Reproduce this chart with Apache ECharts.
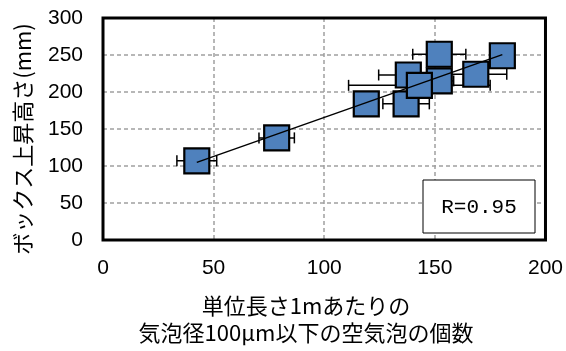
<!DOCTYPE html>
<html>
<head>
<meta charset="utf-8">
<script src="https://cdn.jsdelivr.net/npm/echarts@6/dist/echarts.min.js"></script>
<style>
  html, body { margin: 0; padding: 0; background: #fff; }
  #chart { width: 566px; height: 351px; }
</style>
</head>
<body>
<div id="chart"></div>
<script>
// Bubble count per metre (bubbles ≤ 100 μm) vs. box rise height
const bubbleCount = [42.4, 78.5, 119, 137, 138, 152, 152, 168.5, 180.5, 143];
const riseHeight  = [107, 138, 184, 184, 223, 215, 251, 224, 249, 209];
const countError  = [9, 8, 4, 10.5, 13.4, 6.5, 12, 14, 4, 32];

const xTicks = [0, 50, 100, 150, 200];
const yTicks = [0, 50, 100, 150, 200, 250, 300];

const xTitleLines = ['単位長さ1mあたりの', '気泡径100μm以下の空気泡の個数'];
const yTitle = 'ボックス上昇高さ(mm)';

// least-squares fit and correlation coefficient
const n = bubbleCount.length;
const mx = bubbleCount.reduce((a, b) => a + b, 0) / n;
const my = riseHeight.reduce((a, b) => a + b, 0) / n;
let sxy = 0, sxx = 0, syy = 0;
for (let i = 0; i < n; i++) {
  const dx = bubbleCount[i] - mx, dy = riseHeight[i] - my;
  sxy += dx * dy; sxx += dx * dx; syy += dy * dy;
}
const slope = sxy / sxx;
const intercept = my - slope * mx;
const r = sxy / Math.sqrt(sxx * syy);
const xMin = Math.min(...bubbleCount), xMax = Math.max(...bubbleCount);
const fitLine = [[xMin, intercept + slope * xMin], [xMax, intercept + slope * xMax]];

const points = bubbleCount.map((x, i) => [x, riseHeight[i]]);
const errData = bubbleCount.map((x, i) => [x, riseHeight[i], countError[i]]);

const tickFont = { fontFamily: 'Liberation Sans', fontSize: 21, color: '#000' };
const jpFont = '"Noto Sans CJK JP", sans-serif';

const chart = echarts.init(document.getElementById('chart'), null, { renderer: 'canvas' });
chart.setOption({
  animation: false,
  backgroundColor: '#fff',
  grid: {
    left: 103, right: 19, top: 18, bottom: 111,
    show: true, borderColor: '#000', borderWidth: 3, backgroundColor: 'transparent', z: 3
  },
  xAxis: {
    type: 'value', min: xTicks[0], max: xTicks[xTicks.length - 1], interval: 50,
    axisLine: { show: false }, axisTick: { show: false },
    axisLabel: Object.assign({ margin: 18 }, tickFont),
    splitLine: { show: true, lineStyle: { color: '#a0a0a0', width: 1.5, type: [4, 3] } }
  },
  yAxis: {
    type: 'value', min: yTicks[0], max: yTicks[yTicks.length - 1], interval: 50,
    axisLine: { show: false }, axisTick: { show: false },
    axisLabel: Object.assign({ margin: 20 }, tickFont),
    splitLine: { show: true, lineStyle: { color: '#a0a0a0', width: 1.5, type: [4, 3] } }
  },
  series: [
    {
      // horizontal error bars, drawn beneath the markers
      type: 'custom',
      z: 2,
      data: errData,
      renderItem: function (params, api) {
        const x = api.value(0), y = api.value(1), e = api.value(2);
        const p1 = api.coord([x - e, y]);
        const p2 = api.coord([x + e, y]);
        const cap = 5.5;
        const style = { stroke: '#000', lineWidth: 1.5 };
        return {
          type: 'group',
          children: [
            { type: 'line', shape: { x1: p1[0], y1: p1[1], x2: p2[0], y2: p2[1] }, style },
            { type: 'line', shape: { x1: p1[0], y1: p1[1] - cap, x2: p1[0], y2: p1[1] + cap }, style },
            { type: 'line', shape: { x1: p2[0], y1: p2[1] - cap, x2: p2[0], y2: p2[1] + cap }, style }
          ]
        };
      }
    },
    {
      type: 'scatter',
      z: 4,
      data: points,
      symbol: 'rect',
      symbolSize: 25,
      itemStyle: { color: '#4F81BD', borderColor: '#000', borderWidth: 2.2, opacity: 1 }
    },
    {
      type: 'line',
      z: 5,
      data: fitLine,
      showSymbol: false,
      symbol: 'none',
      lineStyle: { color: '#000', width: 1.5 }
    }
  ],
  graphic: [
    {
      type: 'rect', z: 10,
      shape: { x: 423, y: 180, width: 112, height: 53 },
      style: { fill: '#fff', stroke: '#000', lineWidth: 1 }
    },
    {
      type: 'text', z: 11, x: 479, y: 207,
      style: {
        text: 'R=' + r.toFixed(2), fill: '#000',
        font: '21px "Liberation Mono", monospace',
        textAlign: 'center', textVerticalAlign: 'middle'
      }
    },
    {
      type: 'text', x: 306, y: 306,
      style: {
        text: xTitleLines[0], fill: '#000', font: '22px ' + jpFont,
        textAlign: 'center', textVerticalAlign: 'middle'
      }
    },
    {
      type: 'text', x: 306, y: 333,
      style: {
        text: xTitleLines[1], fill: '#000', font: '22px ' + jpFont,
        textAlign: 'center', textVerticalAlign: 'middle'
      }
    },
    {
      type: 'text', x: 23, y: 139, rotation: Math.PI / 2,
      style: {
        text: yTitle, fill: '#000', font: '22px ' + jpFont,
        textAlign: 'center', textVerticalAlign: 'middle'
      }
    }
  ]
});
</script>
</body>
</html>
